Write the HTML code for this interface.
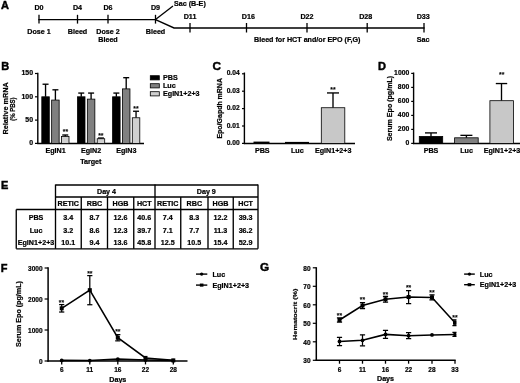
<!DOCTYPE html>
<html><head><meta charset="utf-8"><title>Figure</title>
<style>
html,body{margin:0;padding:0;background:#fff;}
body{width:520px;height:383px;overflow:hidden;}
svg{display:block;will-change:transform;filter:blur(0.35px);}
svg text{font-family:"Liberation Sans",sans-serif;font-weight:bold;fill:#000;stroke:#000;stroke-width:0.22px;}
</style></head><body>
<svg width="520" height="383" viewBox="0 0 520 383" stroke="#000">
<rect x="0" y="0" width="520" height="383" fill="#fff" stroke="none"/>
<text transform="translate(1.00,8.70) scale(1,1.0)" text-anchor="start" font-size="11" style="stroke-width:0.45px">A</text>
<text transform="translate(1.30,70.40) scale(1,1.0)" text-anchor="start" font-size="11" style="stroke-width:0.45px">B</text>
<text transform="translate(212.60,70.10) scale(1,1.0)" text-anchor="start" font-size="11.8" style="stroke-width:0.45px">C</text>
<text transform="translate(377.90,69.50) scale(1,1.0)" text-anchor="start" font-size="11" style="stroke-width:0.45px">D</text>
<text transform="translate(0.90,189.30) scale(1,1.0)" text-anchor="start" font-size="11" style="stroke-width:0.45px">E</text>
<text transform="translate(0.80,271.70) scale(1,1.0)" text-anchor="start" font-size="11" style="stroke-width:0.45px">F</text>
<text transform="translate(260.10,271.40) scale(1,1.0)" text-anchor="start" font-size="11.8" style="stroke-width:0.45px">G</text>
<line x1="38.3" y1="19.6" x2="155.5" y2="19.6" stroke-width="1.4" />
<line x1="39" y1="14.8" x2="39" y2="23.6" stroke-width="1.3" />
<text transform="translate(39.00,9.80) scale(1,0.95)" text-anchor="middle" font-size="7.15" >D0</text>
<line x1="77.5" y1="14.8" x2="77.5" y2="23.6" stroke-width="1.3" />
<text transform="translate(77.50,9.80) scale(1,0.95)" text-anchor="middle" font-size="7.15" >D4</text>
<line x1="108" y1="14.8" x2="108" y2="23.6" stroke-width="1.3" />
<text transform="translate(108.00,9.80) scale(1,0.95)" text-anchor="middle" font-size="7.15" >D6</text>
<line x1="155.5" y1="14.8" x2="155.5" y2="23.6" stroke-width="1.3" />
<text transform="translate(155.50,9.80) scale(1,0.95)" text-anchor="middle" font-size="7.15" >D9</text>
<text transform="translate(39.00,33.80) scale(1,0.95)" text-anchor="middle" font-size="7.15" >Dose 1</text>
<text transform="translate(77.50,33.80) scale(1,0.95)" text-anchor="middle" font-size="7.15" >Bleed</text>
<text transform="translate(108.00,33.80) scale(1,0.95)" text-anchor="middle" font-size="7.15" >Dose 2</text>
<text transform="translate(108.00,41.80) scale(1,0.95)" text-anchor="middle" font-size="7.15" >Bleed</text>
<text transform="translate(155.50,33.80) scale(1,0.95)" text-anchor="middle" font-size="7.15" >Bleed</text>
<line x1="155.5" y1="19.6" x2="173" y2="6" stroke-width="1.3" />
<text transform="translate(174.00,6.00) scale(1,0.95)" text-anchor="start" font-size="7.15" >Sac (B-E)</text>
<polyline points="155.5,19.6 174,28 424.6,28" fill="none" stroke-width="1.4"/>
<line x1="190" y1="23" x2="190" y2="32.5" stroke-width="1.3" />
<text transform="translate(190.00,18.80) scale(1,0.95)" text-anchor="middle" font-size="7.15" >D11</text>
<line x1="246.5" y1="23" x2="246.5" y2="32.5" stroke-width="1.3" />
<text transform="translate(248.30,18.80) scale(1,0.95)" text-anchor="middle" font-size="7.15" >D16</text>
<line x1="307" y1="23" x2="307" y2="32.5" stroke-width="1.3" />
<text transform="translate(307.00,18.80) scale(1,0.95)" text-anchor="middle" font-size="7.15" >D22</text>
<line x1="367.2" y1="23" x2="367.2" y2="32.5" stroke-width="1.3" />
<text transform="translate(365.70,18.80) scale(1,0.95)" text-anchor="middle" font-size="7.15" >D28</text>
<line x1="424" y1="23" x2="424" y2="32.5" stroke-width="1.3" />
<text transform="translate(423.20,18.80) scale(1,0.95)" text-anchor="middle" font-size="7.15" >D33</text>
<text transform="translate(307.20,42.30) scale(1,0.95)" text-anchor="middle" font-size="7.15" >Bleed for HCT and/or EPO (F,G)</text>
<text transform="translate(423.20,42.20) scale(1,0.95)" text-anchor="middle" font-size="7.15" >Sac</text>
<line x1="37.8" y1="72.7" x2="37.8" y2="144.1" stroke-width="1.4" />
<line x1="37.1" y1="143.4" x2="144" y2="143.4" stroke-width="1.5" />
<line x1="35" y1="143.4" x2="37.8" y2="143.4" stroke-width="1.2" />
<text transform="translate(33.00,145.20) scale(0.97,0.95)" text-anchor="end" font-size="7.15" >0</text>
<line x1="35" y1="120.10000000000001" x2="37.8" y2="120.10000000000001" stroke-width="1.2" />
<text transform="translate(33.00,121.90) scale(0.97,0.95)" text-anchor="end" font-size="7.15" >50</text>
<line x1="35" y1="96.80000000000001" x2="37.8" y2="96.80000000000001" stroke-width="1.2" />
<text transform="translate(33.00,98.60) scale(0.97,0.95)" text-anchor="end" font-size="7.15" >100</text>
<line x1="35" y1="73.5" x2="37.8" y2="73.5" stroke-width="1.2" />
<text transform="translate(33.00,75.30) scale(0.97,0.95)" text-anchor="end" font-size="7.15" >150</text>
<text transform="translate(7.6,108.4) rotate(-90) scale(1.02,1)" text-anchor="middle" font-size="7.15">Relative mRNA</text>
<text transform="translate(15.2,109.2) rotate(-90) scale(0.84,1)" text-anchor="middle" font-size="7.15">(% PBS)</text>
<line x1="45.55" y1="84.218" x2="45.55" y2="96.80000000000001" stroke-width="1.35" />
<line x1="42.55" y1="84.218" x2="48.55" y2="84.218" stroke-width="1.35" />
<rect x="41.8" y="96.80000000000001" width="7.5" height="46.599999999999994" fill="#000" stroke="#000" stroke-width="0.8"/>
<line x1="55.4" y1="89.81" x2="55.4" y2="100.06200000000001" stroke-width="1.35" />
<line x1="52.4" y1="89.81" x2="58.4" y2="89.81" stroke-width="1.35" />
<rect x="51.65" y="100.06200000000001" width="7.5" height="43.337999999999994" fill="#808080" stroke="#000" stroke-width="0.8"/>
<line x1="65.25" y1="135.012" x2="65.25" y2="136.41" stroke-width="1.35" />
<line x1="62.25" y1="135.012" x2="68.25" y2="135.012" stroke-width="1.35" />
<rect x="61.5" y="136.41" width="7.5" height="6.990000000000009" fill="#d0d0d0" stroke="#000" stroke-width="0.8"/>
<text transform="translate(55.50,153.20) scale(1,0.95)" text-anchor="middle" font-size="7.15" >EglN1</text>
<line x1="81.25" y1="93.072" x2="81.25" y2="96.80000000000001" stroke-width="1.35" />
<line x1="78.25" y1="93.072" x2="84.25" y2="93.072" stroke-width="1.35" />
<rect x="77.5" y="96.80000000000001" width="7.5" height="46.599999999999994" fill="#000" stroke="#000" stroke-width="0.8"/>
<line x1="91.1" y1="93.072" x2="91.1" y2="99.13000000000001" stroke-width="1.35" />
<line x1="88.1" y1="93.072" x2="94.1" y2="93.072" stroke-width="1.35" />
<rect x="87.35" y="99.13000000000001" width="7.5" height="44.269999999999996" fill="#808080" stroke="#000" stroke-width="0.8"/>
<line x1="100.95" y1="138.041" x2="100.95" y2="138.74" stroke-width="1.35" />
<line x1="97.95" y1="138.041" x2="103.95" y2="138.041" stroke-width="1.35" />
<rect x="97.2" y="138.74" width="7.5" height="4.659999999999997" fill="#d0d0d0" stroke="#000" stroke-width="0.8"/>
<text transform="translate(91.00,153.20) scale(1,0.95)" text-anchor="middle" font-size="7.15" >EglN2</text>
<line x1="116.35" y1="93.072" x2="116.35" y2="96.80000000000001" stroke-width="1.35" />
<line x1="113.35" y1="93.072" x2="119.35" y2="93.072" stroke-width="1.35" />
<rect x="112.6" y="96.80000000000001" width="7.5" height="46.599999999999994" fill="#000" stroke="#000" stroke-width="0.8"/>
<line x1="126.19999999999999" y1="77.694" x2="126.19999999999999" y2="88.87800000000001" stroke-width="1.35" />
<line x1="123.19999999999999" y1="77.694" x2="129.2" y2="77.694" stroke-width="1.35" />
<rect x="122.44999999999999" y="88.87800000000001" width="7.5" height="54.52199999999999" fill="#808080" stroke="#000" stroke-width="0.8"/>
<line x1="136.04999999999998" y1="111.24600000000001" x2="136.04999999999998" y2="117.77000000000001" stroke-width="1.35" />
<line x1="133.04999999999998" y1="111.24600000000001" x2="139.04999999999998" y2="111.24600000000001" stroke-width="1.35" />
<rect x="132.29999999999998" y="117.77000000000001" width="7.5" height="25.629999999999995" fill="#d0d0d0" stroke="#000" stroke-width="0.8"/>
<text transform="translate(126.30,153.20) scale(1,0.95)" text-anchor="middle" font-size="7.15" >EglN3</text>
<text transform="translate(65.40,133.75) scale(1,0.95)" text-anchor="middle" font-size="6.8" style="stroke-width:0.12px">**</text>
<text transform="translate(100.80,137.75) scale(1,0.95)" text-anchor="middle" font-size="6.8" style="stroke-width:0.12px">**</text>
<text transform="translate(136.00,111.25) scale(1,0.95)" text-anchor="middle" font-size="6.8" style="stroke-width:0.12px">**</text>
<text transform="translate(90.80,163.80) scale(1,0.95)" text-anchor="middle" font-size="7.15" >Target</text>
<rect x="150.3" y="75.7" width="9" height="4.2" fill="#000" stroke="#000" stroke-width="0.8"/>
<text transform="translate(163.00,79.60) scale(1,0.95)" text-anchor="start" font-size="7.15" >PBS</text>
<rect x="150.3" y="83.7" width="9" height="4.2" fill="#808080" stroke="#000" stroke-width="0.8"/>
<text transform="translate(163.00,87.60) scale(1,0.95)" text-anchor="start" font-size="7.15" >Luc</text>
<rect x="150.3" y="91.7" width="9" height="4.2" fill="#d0d0d0" stroke="#000" stroke-width="0.8"/>
<text transform="translate(163.00,95.60) scale(1,0.95)" text-anchor="start" font-size="7.15" >EglN1+2+3</text>
<line x1="244.4" y1="72.5" x2="244.4" y2="144.1" stroke-width="1.4" />
<line x1="243.7" y1="143.4" x2="355" y2="143.4" stroke-width="1.5" />
<line x1="242" y1="143.4" x2="244.4" y2="143.4" stroke-width="1.2" />
<text transform="translate(239.60,145.00) scale(0.93,0.95)" text-anchor="end" font-size="7.15" >0.00</text>
<line x1="242" y1="126.0" x2="244.4" y2="126.0" stroke-width="1.2" />
<text transform="translate(239.60,127.60) scale(0.93,0.95)" text-anchor="end" font-size="7.15" >0.01</text>
<line x1="242" y1="108.60000000000001" x2="244.4" y2="108.60000000000001" stroke-width="1.2" />
<text transform="translate(239.60,110.20) scale(0.93,0.95)" text-anchor="end" font-size="7.15" >0.02</text>
<line x1="242" y1="91.20000000000002" x2="244.4" y2="91.20000000000002" stroke-width="1.2" />
<text transform="translate(239.60,92.80) scale(0.93,0.95)" text-anchor="end" font-size="7.15" >0.03</text>
<line x1="242" y1="73.80000000000001" x2="244.4" y2="73.80000000000001" stroke-width="1.2" />
<text transform="translate(239.60,75.40) scale(0.93,0.95)" text-anchor="end" font-size="7.15" >0.04</text>
<text transform="translate(221.7,108.3) rotate(-90) scale(0.978,1)" text-anchor="middle" font-size="7.15">Epo/Gapdh mRNA</text>
<rect x="254" y="142.1" width="15" height="1.0" fill="#000"/>
<rect x="285.5" y="142.4" width="23" height="0.8" fill="#333"/>
<line x1="333" y1="92.94000000000001" x2="333" y2="107.73000000000002" stroke-width="1.35" />
<line x1="327" y1="92.94000000000001" x2="339" y2="92.94000000000001" stroke-width="1.35" />
<rect x="321.3" y="107.73000000000002" width="23.5" height="35.66999999999999" fill="#c8c8c8" stroke="#000" stroke-width="0.8"/>
<text transform="translate(333.00,92.45) scale(1,0.95)" text-anchor="middle" font-size="6.8" style="stroke-width:0.12px">**</text>
<text transform="translate(262.30,153.20) scale(1,0.95)" text-anchor="middle" font-size="7.15" >PBS</text>
<text transform="translate(297.30,153.20) scale(1,0.95)" text-anchor="middle" font-size="7.15" >Luc</text>
<text transform="translate(333.20,153.20) scale(1,0.95)" text-anchor="middle" font-size="7.15" >EglN1+2+3</text>
<line x1="413.6" y1="72.5" x2="413.6" y2="144.1" stroke-width="1.4" />
<line x1="412.9" y1="143.4" x2="520" y2="143.4" stroke-width="1.5" />
<line x1="411.2" y1="143.4" x2="413.6" y2="143.4" stroke-width="1.2" />
<text transform="translate(409.20,145.20) scale(0.95,0.95)" text-anchor="end" font-size="7.15" >0</text>
<line x1="411.2" y1="129.4" x2="413.6" y2="129.4" stroke-width="1.2" />
<text transform="translate(409.20,131.20) scale(0.95,0.95)" text-anchor="end" font-size="7.15" >200</text>
<line x1="411.2" y1="115.4" x2="413.6" y2="115.4" stroke-width="1.2" />
<text transform="translate(409.20,117.20) scale(0.95,0.95)" text-anchor="end" font-size="7.15" >400</text>
<line x1="411.2" y1="101.4" x2="413.6" y2="101.4" stroke-width="1.2" />
<text transform="translate(409.20,103.20) scale(0.95,0.95)" text-anchor="end" font-size="7.15" >600</text>
<line x1="411.2" y1="87.4" x2="413.6" y2="87.4" stroke-width="1.2" />
<text transform="translate(409.20,89.20) scale(0.95,0.95)" text-anchor="end" font-size="7.15" >800</text>
<line x1="411.2" y1="73.4" x2="413.6" y2="73.4" stroke-width="1.2" />
<text transform="translate(409.20,75.20) scale(0.95,0.95)" text-anchor="end" font-size="7.15" >1000</text>
<text transform="translate(392.2,108.5) rotate(-90) scale(0.99,1)" text-anchor="middle" font-size="7.15">Serum Epo (pg/mL)</text>
<line x1="431" y1="132.9" x2="431" y2="136.4" stroke-width="1.35" />
<line x1="425" y1="132.9" x2="437" y2="132.9" stroke-width="1.35" />
<rect x="419.3" y="136.4" width="23.4" height="7.0" fill="#000" stroke="#000" stroke-width="0.8"/>
<line x1="466.4" y1="135.35" x2="466.4" y2="137.8" stroke-width="1.35" />
<line x1="460.4" y1="135.35" x2="472.4" y2="135.35" stroke-width="1.35" />
<rect x="454.6" y="137.8" width="23.6" height="5.599999999999994" fill="#808080" stroke="#000" stroke-width="0.8"/>
<line x1="501.5" y1="83.55" x2="501.5" y2="100.70000000000002" stroke-width="1.35" />
<line x1="495.8" y1="83.55" x2="507.2" y2="83.55" stroke-width="1.35" />
<rect x="489.9" y="100.70000000000002" width="23.6" height="42.69999999999999" fill="#c8c8c8" stroke="#000" stroke-width="0.8"/>
<text transform="translate(501.70,77.05) scale(1,0.95)" text-anchor="middle" font-size="6.8" style="stroke-width:0.12px">**</text>
<text transform="translate(431.00,153.20) scale(1,0.95)" text-anchor="middle" font-size="7.15" >PBS</text>
<text transform="translate(466.50,153.20) scale(1,0.95)" text-anchor="middle" font-size="7.15" >Luc</text>
<text transform="translate(502.00,153.20) scale(1,0.95)" text-anchor="middle" font-size="7.15" >EglN1+2+3</text>
<g stroke-width="1.35">
<line x1="55.5" y1="185" x2="258" y2="185" />
<line x1="55.5" y1="197" x2="258" y2="197" />
<line x1="16.25" y1="209.5" x2="258" y2="209.5" />
<line x1="16.25" y1="248.8" x2="258" y2="248.8" />
<line x1="16.25" y1="209.5" x2="16.25" y2="248.8" />
<line x1="55.5" y1="184.5" x2="55.5" y2="248.8" />
<line x1="155" y1="184.5" x2="155" y2="248.8" />
<line x1="258" y1="184.5" x2="258" y2="248.8" />
<line x1="81.25" y1="197" x2="81.25" y2="248.8" />
<line x1="107.5" y1="197" x2="107.5" y2="248.8" />
<line x1="133.75" y1="197" x2="133.75" y2="248.8" />
<line x1="180.75" y1="197" x2="180.75" y2="248.8" />
<line x1="208" y1="197" x2="208" y2="248.8" />
<line x1="233.25" y1="197" x2="233.25" y2="248.8" />
</g>
<text transform="translate(106.50,193.80) scale(1,0.95)" text-anchor="middle" font-size="7.15" >Day 4</text>
<text transform="translate(206.30,193.80) scale(1,0.95)" text-anchor="middle" font-size="7.15" >Day 9</text>
<text transform="translate(68.30,205.50) scale(1,0.95)" text-anchor="middle" font-size="7.15" >RETIC</text>
<text transform="translate(94.50,205.50) scale(1,0.95)" text-anchor="middle" font-size="7.15" >RBC</text>
<text transform="translate(120.50,205.50) scale(1,0.95)" text-anchor="middle" font-size="7.15" >HGB</text>
<text transform="translate(144.30,205.50) scale(1,0.95)" text-anchor="middle" font-size="7.15" >HCT</text>
<text transform="translate(167.80,205.50) scale(1,0.95)" text-anchor="middle" font-size="7.15" >RETIC</text>
<text transform="translate(194.30,205.50) scale(1,0.95)" text-anchor="middle" font-size="7.15" >RBC</text>
<text transform="translate(220.50,205.50) scale(1,0.95)" text-anchor="middle" font-size="7.15" >HGB</text>
<text transform="translate(245.60,205.50) scale(1,0.95)" text-anchor="middle" font-size="7.15" >HCT</text>
<text transform="translate(36.00,219.50) scale(1,0.95)" text-anchor="middle" font-size="7.15" >PBS</text>
<text transform="translate(68.30,219.50) scale(1,0.95)" text-anchor="middle" font-size="7.15" >3.4</text>
<text transform="translate(94.50,219.50) scale(1,0.95)" text-anchor="middle" font-size="7.15" >8.7</text>
<text transform="translate(120.50,219.50) scale(1,0.95)" text-anchor="middle" font-size="7.15" >12.6</text>
<text transform="translate(144.30,219.50) scale(1,0.95)" text-anchor="middle" font-size="7.15" >40.6</text>
<text transform="translate(167.80,219.50) scale(1,0.95)" text-anchor="middle" font-size="7.15" >7.4</text>
<text transform="translate(194.30,219.50) scale(1,0.95)" text-anchor="middle" font-size="7.15" >8.3</text>
<text transform="translate(220.50,219.50) scale(1,0.95)" text-anchor="middle" font-size="7.15" >12.2</text>
<text transform="translate(245.60,219.50) scale(1,0.95)" text-anchor="middle" font-size="7.15" >39.3</text>
<text transform="translate(36.00,232.50) scale(1,0.95)" text-anchor="middle" font-size="7.15" >Luc</text>
<text transform="translate(68.30,232.50) scale(1,0.95)" text-anchor="middle" font-size="7.15" >3.2</text>
<text transform="translate(94.50,232.50) scale(1,0.95)" text-anchor="middle" font-size="7.15" >8.6</text>
<text transform="translate(120.50,232.50) scale(1,0.95)" text-anchor="middle" font-size="7.15" >12.3</text>
<text transform="translate(144.30,232.50) scale(1,0.95)" text-anchor="middle" font-size="7.15" >39.7</text>
<text transform="translate(167.80,232.50) scale(1,0.95)" text-anchor="middle" font-size="7.15" >7.1</text>
<text transform="translate(194.30,232.50) scale(1,0.95)" text-anchor="middle" font-size="7.15" >7.7</text>
<text transform="translate(220.50,232.50) scale(1,0.95)" text-anchor="middle" font-size="7.15" >11.3</text>
<text transform="translate(245.60,232.50) scale(1,0.95)" text-anchor="middle" font-size="7.15" >36.2</text>
<text transform="translate(36.00,245.00) scale(1,0.95)" text-anchor="middle" font-size="7.15" >EglN1+2+3</text>
<text transform="translate(68.30,245.00) scale(1,0.95)" text-anchor="middle" font-size="7.15" >10.1</text>
<text transform="translate(94.50,245.00) scale(1,0.95)" text-anchor="middle" font-size="7.15" >9.4</text>
<text transform="translate(120.50,245.00) scale(1,0.95)" text-anchor="middle" font-size="7.15" >13.6</text>
<text transform="translate(144.30,245.00) scale(1,0.95)" text-anchor="middle" font-size="7.15" >45.8</text>
<text transform="translate(167.80,245.00) scale(1,0.95)" text-anchor="middle" font-size="7.15" >12.5</text>
<text transform="translate(194.30,245.00) scale(1,0.95)" text-anchor="middle" font-size="7.15" >10.5</text>
<text transform="translate(220.50,245.00) scale(1,0.95)" text-anchor="middle" font-size="7.15" >15.4</text>
<text transform="translate(245.60,245.00) scale(1,0.95)" text-anchor="middle" font-size="7.15" >52.9</text>
<line x1="48.1" y1="267.3" x2="48.1" y2="361.7" stroke-width="1.5" />
<line x1="47.4" y1="361.0" x2="187.5" y2="361.0" stroke-width="1.5" />
<line x1="44.6" y1="361.0" x2="48.1" y2="361.0" stroke-width="1.2" />
<text transform="translate(42.60,364.00) scale(0.87,1.0)" text-anchor="end" font-size="7.5" >0</text>
<line x1="44.6" y1="330.0" x2="48.1" y2="330.0" stroke-width="1.2" />
<text transform="translate(42.60,333.00) scale(0.87,1.0)" text-anchor="end" font-size="7.5" >1000</text>
<line x1="44.6" y1="299.0" x2="48.1" y2="299.0" stroke-width="1.2" />
<text transform="translate(42.60,302.00) scale(0.87,1.0)" text-anchor="end" font-size="7.5" >2000</text>
<line x1="44.6" y1="268.0" x2="48.1" y2="268.0" stroke-width="1.2" />
<text transform="translate(42.60,271.00) scale(0.87,1.0)" text-anchor="end" font-size="7.5" >3000</text>
<text transform="translate(20.8,314) rotate(-90) scale(1.0,0.88)" text-anchor="middle" font-size="7.15">Serum Epo (pg/mL)</text>
<line x1="61.7" y1="361.0" x2="61.7" y2="364.4" stroke-width="1.3" />
<text transform="translate(61.70,372.20) scale(0.87,1.0)" text-anchor="middle" font-size="7.5" >6</text>
<line x1="89.8" y1="361.0" x2="89.8" y2="364.4" stroke-width="1.3" />
<text transform="translate(89.80,372.20) scale(0.87,1.0)" text-anchor="middle" font-size="7.5" >11</text>
<line x1="117.8" y1="361.0" x2="117.8" y2="364.4" stroke-width="1.3" />
<text transform="translate(117.80,372.20) scale(0.87,1.0)" text-anchor="middle" font-size="7.5" >16</text>
<line x1="145.5" y1="361.0" x2="145.5" y2="364.4" stroke-width="1.3" />
<text transform="translate(145.50,372.20) scale(0.87,1.0)" text-anchor="middle" font-size="7.5" >22</text>
<line x1="173.3" y1="361.0" x2="173.3" y2="364.4" stroke-width="1.3" />
<text transform="translate(173.30,372.20) scale(0.87,1.0)" text-anchor="middle" font-size="7.5" >28</text>
<text transform="translate(117.80,381.50) scale(1,1.0)" text-anchor="middle" font-size="7.15" >Days</text>
<polyline points="61.70,360.38 89.80,360.54 117.80,359.14 145.50,360.07 173.30,360.54" fill="none" stroke-width="1.55"/>
<circle cx="61.7" cy="360.38" r="1.9" fill="#000" stroke="none"/>
<circle cx="89.8" cy="360.54" r="1.9" fill="#000" stroke="none"/>
<circle cx="117.8" cy="359.14" r="1.9" fill="#000" stroke="none"/>
<circle cx="145.5" cy="360.07" r="1.9" fill="#000" stroke="none"/>
<circle cx="173.3" cy="360.54" r="1.9" fill="#000" stroke="none"/>
<polyline points="61.70,308.30 89.80,290.16 117.80,337.75 145.50,357.90 173.30,360.38" fill="none" stroke-width="1.55"/>
<line x1="61.7" y1="304.58" x2="61.7" y2="312.02" stroke-width="1.25" />
<line x1="59.1" y1="304.58" x2="64.3" y2="304.58" stroke-width="1.25" />
<line x1="59.1" y1="312.02" x2="64.3" y2="312.02" stroke-width="1.25" />
<rect x="59.7" y="306.30" width="4.0" height="4.0" fill="#000" stroke="none"/>
<line x1="89.8" y1="275.595" x2="89.8" y2="304.735" stroke-width="1.25" />
<line x1="87.2" y1="275.595" x2="92.39999999999999" y2="275.595" stroke-width="1.25" />
<line x1="87.2" y1="304.735" x2="92.39999999999999" y2="304.735" stroke-width="1.25" />
<rect x="87.8" y="288.16" width="4.0" height="4.0" fill="#000" stroke="none"/>
<line x1="117.8" y1="334.65" x2="117.8" y2="340.85" stroke-width="1.25" />
<line x1="115.2" y1="334.65" x2="120.39999999999999" y2="334.65" stroke-width="1.25" />
<line x1="115.2" y1="340.85" x2="120.39999999999999" y2="340.85" stroke-width="1.25" />
<rect x="115.8" y="335.75" width="4.0" height="4.0" fill="#000" stroke="none"/>
<rect x="143.5" y="355.90" width="4.0" height="4.0" fill="#000" stroke="none"/>
<rect x="171.3" y="358.38" width="4.0" height="4.0" fill="#000" stroke="none"/>
<text transform="translate(61.50,304.95) scale(1,1.0)" text-anchor="middle" font-size="6.8" style="stroke-width:0.12px">**</text>
<text transform="translate(89.80,275.55) scale(1,1.0)" text-anchor="middle" font-size="6.8" style="stroke-width:0.12px">**</text>
<text transform="translate(117.80,334.25) scale(1,1.0)" text-anchor="middle" font-size="6.8" style="stroke-width:0.12px">**</text>
<line x1="196" y1="274.1" x2="207.3" y2="274.1" stroke-width="1.4" />
<circle cx="201.65" cy="274.1" r="1.7" fill="#000" stroke="none"/>
<text transform="translate(212.50,276.60) scale(1,1.0)" text-anchor="start" font-size="7.15" >Luc</text>
<line x1="196" y1="285.1" x2="207.3" y2="285.1" stroke-width="1.4" />
<rect x="199.85" y="283.55" width="3.6" height="3.1" fill="#000" stroke="none"/>
<text transform="translate(212.50,287.60) scale(1,1.0)" text-anchor="start" font-size="7.15" >EglN1+2+3</text>
<line x1="316.3" y1="267.2" x2="316.3" y2="361.0" stroke-width="1.5" />
<line x1="315.6" y1="360.3" x2="455.7" y2="360.3" stroke-width="1.5" />
<line x1="312.8" y1="360.3" x2="316.3" y2="360.3" stroke-width="1.2" />
<text transform="translate(310.60,363.20) scale(0.87,1.0)" text-anchor="end" font-size="7.5" >30</text>
<line x1="312.8" y1="341.8" x2="316.3" y2="341.8" stroke-width="1.2" />
<text transform="translate(310.60,344.70) scale(0.87,1.0)" text-anchor="end" font-size="7.5" >40</text>
<line x1="312.8" y1="323.3" x2="316.3" y2="323.3" stroke-width="1.2" />
<text transform="translate(310.60,326.20) scale(0.87,1.0)" text-anchor="end" font-size="7.5" >50</text>
<line x1="312.8" y1="304.8" x2="316.3" y2="304.8" stroke-width="1.2" />
<text transform="translate(310.60,307.70) scale(0.87,1.0)" text-anchor="end" font-size="7.5" >60</text>
<line x1="312.8" y1="286.3" x2="316.3" y2="286.3" stroke-width="1.2" />
<text transform="translate(310.60,289.20) scale(0.87,1.0)" text-anchor="end" font-size="7.5" >70</text>
<line x1="312.8" y1="267.8" x2="316.3" y2="267.8" stroke-width="1.2" />
<text transform="translate(310.60,270.70) scale(0.87,1.0)" text-anchor="end" font-size="7.5" >80</text>
<text transform="translate(297.2,314.2) rotate(-90) scale(1.02,0.86)" text-anchor="middle" font-size="7.15">Hematocrit (%)</text>
<line x1="339.5" y1="360.3" x2="339.5" y2="363.7" stroke-width="1.3" />
<text transform="translate(339.50,371.90) scale(0.87,1.0)" text-anchor="middle" font-size="7.5" >6</text>
<line x1="362.5" y1="360.3" x2="362.5" y2="363.7" stroke-width="1.3" />
<text transform="translate(362.50,371.90) scale(0.87,1.0)" text-anchor="middle" font-size="7.5" >11</text>
<line x1="385.5" y1="360.3" x2="385.5" y2="363.7" stroke-width="1.3" />
<text transform="translate(385.50,371.90) scale(0.87,1.0)" text-anchor="middle" font-size="7.5" >16</text>
<line x1="408.6" y1="360.3" x2="408.6" y2="363.7" stroke-width="1.3" />
<text transform="translate(408.60,371.90) scale(0.87,1.0)" text-anchor="middle" font-size="7.5" >22</text>
<line x1="432" y1="360.3" x2="432" y2="363.7" stroke-width="1.3" />
<text transform="translate(432.00,371.90) scale(0.87,1.0)" text-anchor="middle" font-size="7.5" >28</text>
<line x1="455" y1="360.3" x2="455" y2="363.7" stroke-width="1.3" />
<text transform="translate(455.00,371.90) scale(0.87,1.0)" text-anchor="middle" font-size="7.5" >33</text>
<text transform="translate(385.50,380.50) scale(1,1.0)" text-anchor="middle" font-size="7.15" >Days</text>
<clipPath id="cg"><rect x="316" y="260" width="140.5" height="105"/></clipPath><g clip-path="url(#cg)">
<polyline points="339.50,341.43 362.50,340.32 385.50,334.40 408.60,335.69 432.00,334.95 455.00,334.40" fill="none" stroke-width="1.55"/>
<line x1="339.5" y1="337.36" x2="339.5" y2="345.5" stroke-width="1.25" />
<line x1="336.9" y1="337.36" x2="342.1" y2="337.36" stroke-width="1.25" />
<line x1="336.9" y1="345.5" x2="342.1" y2="345.5" stroke-width="1.25" />
<circle cx="339.5" cy="341.43" r="1.9" fill="#000" stroke="none"/>
<line x1="362.5" y1="334.77000000000004" x2="362.5" y2="345.87" stroke-width="1.25" />
<line x1="359.9" y1="334.77000000000004" x2="365.1" y2="334.77000000000004" stroke-width="1.25" />
<line x1="359.9" y1="345.87" x2="365.1" y2="345.87" stroke-width="1.25" />
<circle cx="362.5" cy="340.32" r="1.9" fill="#000" stroke="none"/>
<line x1="385.5" y1="330.33" x2="385.5" y2="338.47" stroke-width="1.25" />
<line x1="382.9" y1="330.33" x2="388.1" y2="330.33" stroke-width="1.25" />
<line x1="382.9" y1="338.47" x2="388.1" y2="338.47" stroke-width="1.25" />
<circle cx="385.5" cy="334.40" r="1.9" fill="#000" stroke="none"/>
<line x1="408.6" y1="332.735" x2="408.6" y2="338.65500000000003" stroke-width="1.25" />
<line x1="406.0" y1="332.735" x2="411.20000000000005" y2="332.735" stroke-width="1.25" />
<line x1="406.0" y1="338.65500000000003" x2="411.20000000000005" y2="338.65500000000003" stroke-width="1.25" />
<circle cx="408.6" cy="335.69" r="1.9" fill="#000" stroke="none"/>
<circle cx="432" cy="334.95" r="1.9" fill="#000" stroke="none"/>
<line x1="455" y1="332.365" x2="455" y2="336.435" stroke-width="1.25" />
<line x1="452.4" y1="332.365" x2="457.6" y2="332.365" stroke-width="1.25" />
<line x1="452.4" y1="336.435" x2="457.6" y2="336.435" stroke-width="1.25" />
<circle cx="455" cy="334.40" r="1.9" fill="#000" stroke="none"/>
<polyline points="339.50,319.97 362.50,305.54 385.50,299.25 408.60,297.03 432.00,297.40 455.00,322.75" fill="none" stroke-width="1.55"/>
<line x1="339.5" y1="317.935" x2="339.5" y2="322.005" stroke-width="1.25" />
<line x1="336.9" y1="317.935" x2="342.1" y2="317.935" stroke-width="1.25" />
<line x1="336.9" y1="322.005" x2="342.1" y2="322.005" stroke-width="1.25" />
<rect x="337.5" y="317.97" width="4.0" height="4.0" fill="#000" stroke="none"/>
<line x1="362.5" y1="302.58000000000004" x2="362.5" y2="308.5" stroke-width="1.25" />
<line x1="359.9" y1="302.58000000000004" x2="365.1" y2="302.58000000000004" stroke-width="1.25" />
<line x1="359.9" y1="308.5" x2="365.1" y2="308.5" stroke-width="1.25" />
<rect x="360.5" y="303.54" width="4.0" height="4.0" fill="#000" stroke="none"/>
<line x1="385.5" y1="296.29" x2="385.5" y2="302.21000000000004" stroke-width="1.25" />
<line x1="382.9" y1="296.29" x2="388.1" y2="296.29" stroke-width="1.25" />
<line x1="382.9" y1="302.21000000000004" x2="388.1" y2="302.21000000000004" stroke-width="1.25" />
<rect x="383.5" y="297.25" width="4.0" height="4.0" fill="#000" stroke="none"/>
<line x1="408.6" y1="290.555" x2="408.6" y2="303.505" stroke-width="1.25" />
<line x1="406.0" y1="290.555" x2="411.20000000000005" y2="290.555" stroke-width="1.25" />
<line x1="406.0" y1="303.505" x2="411.20000000000005" y2="303.505" stroke-width="1.25" />
<rect x="406.6" y="295.03" width="4.0" height="4.0" fill="#000" stroke="none"/>
<line x1="432" y1="294.81" x2="432" y2="299.99" stroke-width="1.25" />
<line x1="429.4" y1="294.81" x2="434.6" y2="294.81" stroke-width="1.25" />
<line x1="429.4" y1="299.99" x2="434.6" y2="299.99" stroke-width="1.25" />
<rect x="430.0" y="295.40" width="4.0" height="4.0" fill="#000" stroke="none"/>
<line x1="455" y1="319.785" x2="455" y2="325.70500000000004" stroke-width="1.25" />
<line x1="452.4" y1="319.785" x2="457.6" y2="319.785" stroke-width="1.25" />
<line x1="452.4" y1="325.70500000000004" x2="457.6" y2="325.70500000000004" stroke-width="1.25" />
<rect x="453.0" y="320.75" width="4.0" height="4.0" fill="#000" stroke="none"/>
</g>
<text transform="translate(339.50,318.45) scale(1,1.0)" text-anchor="middle" font-size="6.8" style="stroke-width:0.12px">**</text>
<text transform="translate(362.50,301.85) scale(1,1.0)" text-anchor="middle" font-size="6.8" style="stroke-width:0.12px">**</text>
<text transform="translate(385.50,296.55) scale(1,1.0)" text-anchor="middle" font-size="6.8" style="stroke-width:0.12px">**</text>
<text transform="translate(408.60,290.35) scale(1,1.0)" text-anchor="middle" font-size="6.8" style="stroke-width:0.12px">**</text>
<text transform="translate(432.00,294.85) scale(1,1.0)" text-anchor="middle" font-size="6.8" style="stroke-width:0.12px">**</text>
<text transform="translate(455.00,320.35) scale(1,1.0)" text-anchor="middle" font-size="6.8" style="stroke-width:0.12px">**</text>
<line x1="464.1" y1="274.1" x2="474.8" y2="274.1" stroke-width="1.4" />
<circle cx="469.45000000000005" cy="274.1" r="1.7" fill="#000" stroke="none"/>
<text transform="translate(479.80,276.60) scale(1,1.0)" text-anchor="start" font-size="7.15" >Luc</text>
<line x1="464.1" y1="284.7" x2="474.8" y2="284.7" stroke-width="1.4" />
<rect x="467.65000000000003" y="283.15" width="3.6" height="3.1" fill="#000" stroke="none"/>
<text transform="translate(479.80,287.20) scale(1,1.0)" text-anchor="start" font-size="7.15" >EglN1+2+3</text>
</svg>
</body></html>
